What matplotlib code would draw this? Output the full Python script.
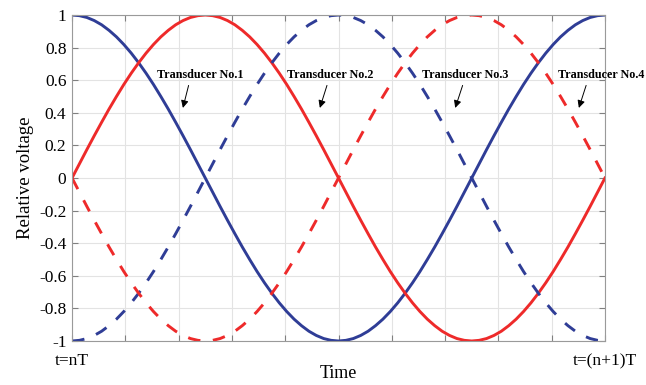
import numpy as np
import matplotlib.pyplot as plt

# relative voltage of each transducer over one period, read every 1/72 T
no1 = [1, 0.996, 0.985, 0.966, 0.94, 0.906, 0.866, 0.819, 0.766, 0.707, 0.643,
       0.574, 0.5, 0.423, 0.342, 0.259, 0.174, 0.087, 0, -0.087, -0.174, -0.259,
       -0.342, -0.423, -0.5, -0.574, -0.643, -0.707, -0.766, -0.819, -0.866,
       -0.906, -0.94, -0.966, -0.985, -0.996, -1, -0.996, -0.985, -0.966, -0.94,
       -0.906, -0.866, -0.819, -0.766, -0.707, -0.643, -0.574, -0.5, -0.423,
       -0.342, -0.259, -0.174, -0.087, 0, 0.087, 0.174, 0.259, 0.342, 0.423, 0.5,
       0.574, 0.643, 0.707, 0.766, 0.819, 0.866, 0.906, 0.94, 0.966, 0.985,
       0.996, 1]
no2 = [0, 0.087, 0.174, 0.259, 0.342, 0.423, 0.5, 0.574, 0.643, 0.707, 0.766,
       0.819, 0.866, 0.906, 0.94, 0.966, 0.985, 0.996, 1, 0.996, 0.985, 0.966,
       0.94, 0.906, 0.866, 0.819, 0.766, 0.707, 0.643, 0.574, 0.5, 0.423, 0.342,
       0.259, 0.174, 0.087, 0, -0.087, -0.174, -0.259, -0.342, -0.423, -0.5,
       -0.574, -0.643, -0.707, -0.766, -0.819, -0.866, -0.906, -0.94, -0.966,
       -0.985, -0.996, -1, -0.996, -0.985, -0.966, -0.94, -0.906, -0.866,
       -0.819, -0.766, -0.707, -0.643, -0.574, -0.5, -0.423, -0.342, -0.259,
       -0.174, -0.087, 0]
no3 = [-1, -0.996, -0.985, -0.966, -0.94, -0.906, -0.866, -0.819, -0.766,
       -0.707, -0.643, -0.574, -0.5, -0.423, -0.342, -0.259, -0.174, -0.087, 0,
       0.087, 0.174, 0.259, 0.342, 0.423, 0.5, 0.574, 0.643, 0.707, 0.766, 0.819,
       0.866, 0.906, 0.94, 0.966, 0.985, 0.996, 1, 0.996, 0.985, 0.966, 0.94,
       0.906, 0.866, 0.819, 0.766, 0.707, 0.643, 0.574, 0.5, 0.423, 0.342, 0.259,
       0.174, 0.087, 0, -0.087, -0.174, -0.259, -0.342, -0.423, -0.5, -0.574,
       -0.643, -0.707, -0.766, -0.819, -0.866, -0.906, -0.94, -0.966, -0.985,
       -0.996, -1]
no4 = [0, -0.087, -0.174, -0.259, -0.342, -0.423, -0.5, -0.574, -0.643, -0.707,
       -0.766, -0.819, -0.866, -0.906, -0.94, -0.966, -0.985, -0.996, -1,
       -0.996, -0.985, -0.966, -0.94, -0.906, -0.866, -0.819, -0.766, -0.707,
       -0.643, -0.574, -0.5, -0.423, -0.342, -0.259, -0.174, -0.087, 0, 0.087,
       0.174, 0.259, 0.342, 0.423, 0.5, 0.574, 0.643, 0.707, 0.766, 0.819, 0.866,
       0.906, 0.94, 0.966, 0.985, 0.996, 1, 0.996, 0.985, 0.966, 0.94, 0.906,
       0.866, 0.819, 0.766, 0.707, 0.643, 0.574, 0.5, 0.423, 0.342, 0.259, 0.174,
       0.087, 0]

labels = ['Transducer No.1', 'Transducer No.2', 'Transducer No.3', 'Transducer No.4']
yticks = [-1, -0.8, -0.6, -0.4, -0.2, 0, 0.2, 0.4, 0.6, 0.8, 1]
ytick_labels = ['-1', '-0.8', '-0.6', '-0.4', '-0.2', '0', '0.2', '0.4', '0.6', '0.8', '1']

plt.rcParams['font.family'] = ['Liberation Serif', 'DejaVu Serif']

blue = '#2f3d96'
red = '#ee2a2a'

fig = plt.figure(figsize=(6.46, 3.85), dpi=100)
ax = fig.add_axes([0.1115, 0.1143, 0.825, 0.8467])

t = np.linspace(0, 1, len(no1))
lw = 2.1
ax.plot(t, no1, color=blue, lw=lw)
ax.plot(t, no2, color=red, lw=lw)
ax.plot(t, no3, color=blue, lw=lw, dashes=(4.3, 4.3))
ax.plot(t, no4, color=red, lw=lw, dashes=(4.3, 4.3))

ax.set_xlim(0, 1)
ax.set_ylim(-1, 1)
ax.set_xticks(np.arange(0, 1.01, 0.1))
ax.set_xticklabels(['t=nT'] + [''] * 9 + ['t=(n+1)T'])
ax.set_yticks(yticks)
ax.set_yticklabels(ytick_labels)
ax.grid(True, color='#e3e3e3', lw=0.8)
ax.tick_params(direction='in', top=True, right=True, color='#808080',
               labelsize=12.5, length=4, pad=4)
ax.tick_params(axis='x', pad=9)
for s in ax.spines.values():
    s.set_color('#9a9a9a')
    s.set_linewidth(0.8)

ax.set_xlabel('Time', fontsize=13, labelpad=-3)
ax.set_ylabel('Relative voltage', fontsize=13.5, labelpad=4)

# text position, arrow tip, where the arrow leaves the text
text_xy = [(0.159, 0.63), (0.403, 0.63), (0.656, 0.63), (0.912, 0.63)]
tip_xy = [(0.208, 0.43), (0.465, 0.43), (0.719, 0.43), (0.951, 0.43)]
rel_x = [0.38, 0.48, 0.49, 0.34]
for lab, txy, pxy, rx in zip(labels, text_xy, tip_xy, rel_x):
    ax.annotate(lab, xy=pxy, xytext=txy, ha='left', va='center',
                fontsize=8.7, fontweight='bold', annotation_clip=False,
                arrowprops=dict(arrowstyle='-|>', color='black', lw=0.7,
                                mutation_scale=11, relpos=(rx, 0),
                                shrinkA=1, shrinkB=0))

fig.savefig('out.png', dpi=100)
